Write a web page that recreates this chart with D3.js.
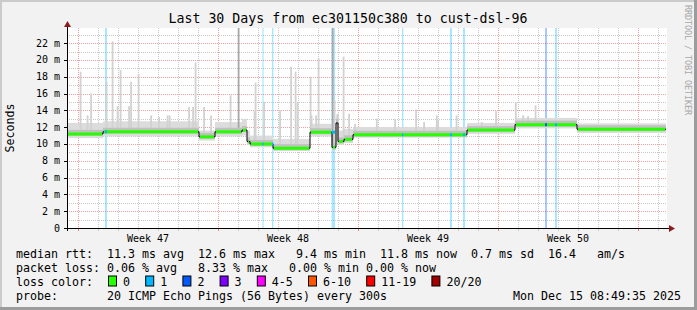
<!DOCTYPE html>
<html>
<head>
<meta charset="utf-8">
<script src="https://cdn.jsdelivr.net/npm/d3@7"></script>
<style>
body { margin: 0; background: #f2f2f2; }
text { font-family: "DejaVu Sans Mono", monospace; }
</style>
</head>
<body>
<div id="chart"></div>
<script>
(function(){
	var title = "Last 30 Days from ec301150c380 to cust-dsl-96";
	var graphStart = Date.UTC(2025, 10, 15, 10, 48);
	var spanDays = 30;

	// median rtt, stepped (day offset from graph start, ms)
	var segStart  = [0, 1.8, 6.6, 7.4, 8.75, 9.0, 9.15, 10.3, 12.15, 13.25, 13.45, 13.55, 13.85, 14.3, 20.0, 22.4, 25.5];
	var segEnd    = [1.8, 6.6, 7.4, 8.75, 9.0, 9.15, 10.3, 12.15, 13.25, 13.45, 13.55, 13.85, 14.3, 20.0, 22.4, 25.5, 29.95];
	var segMedian = [11.2, 11.45, 10.85, 11.45, 11.65, 10.3, 10.0, 9.5, 11.4, 9.6, 12.5, 10.3, 10.55, 11.1, 11.65, 12.3, 11.75];
	var smokeLo   = [10.7, 10.9, 10.4, 10.9, 11.0, 9.9, 9.6, 9.15, 10.9, 9.3, 10.0, 9.9, 10.1, 10.75, 11.2, 11.85, 11.3];
	var smokeHi   = [12.5, 12.7, 11.6, 12.6, 13.0, 11.6, 11.0, 10.6, 12.4, 12.0, 13.5, 11.6, 11.8, 12.0, 12.5, 13.1, 12.45];

	// single tall pings (day offset, ms, dark = several pings high)
	var spikeDay = [0.675, 1.025, 1.2, 1.975, 2.275, 2.525, 2.675, 3.1, 3.2, 3.575, 4.2, 4.6, 5.025, 5.125, 6.1, 6.3, 6.425, 6.85, 7.2,
		8.175, 8.575, 9.375, 9.425, 9.85, 10.65, 11.2, 11.425, 11.525, 12.175, 12.225, 12.45, 12.575, 13.275, 13.375, 13.55,
		13.825, 14.1, 14.4, 15.485, 16.4, 17.45, 17.85, 18.485, 18.55, 19.475, 20.735, 21.45, 22.435, 22.8, 23.05, 23.425];
	var spikeTop = [18.6, 13.4, 16.0, 17.4, 22.2, 14.5, 18.8, 14.5, 17.4, 18.3, 13.4, 13.2, 13.4, 13.4, 14.4, 14.4, 19.7, 14.4, 13.4,
		15.8, 23.8, 13.9, 17.3, 15.0, 14.0, 19.2, 18.6, 14.9, 18.0, 13.4, 13.4, 20.2, 23.8, 15.2, 13.6,
		20.4, 13.6, 12.4, 13.0, 13.0, 14.1, 12.6, 13.4, 12.8, 13.4, 12.6, 13.9, 15.0, 13.4, 13.3, 14.6];
	var spikeDark = [20, 32];

	// loss buckets (day offsets) and loss level index
	var lossStart = [1.9, 9.77, 10.25, 13.23, 16.75, 19.15, 19.8, 23.9, 24.4];
	var lossEnd   = [2.0, 9.83, 10.32, 13.4, 16.82, 19.25, 19.9, 24.0, 24.5];
	var lossLevel = [1, 1, 1, 1, 1, 1, 1, 2, 1];

	var lossLabels = ["0", "1", "2", "3", "4-5", "6-10", "11-19", "20/20"];
	var lossColors = ["#26ff00", "#00b8ff", "#0059ff", "#7e00ff", "#ff00ff", "#ff5500", "#ff0000", "#a10000"];

	var weekLabels = ["Week 47", "Week 48", "Week 49", "Week 50"];

	var legend1 = "median rtt:  11.3 ms avg  12.6 ms max   9.4 ms min  11.8 ms now  0.7 ms sd  16.4   am/s";
	var legend2 = "packet loss: 0.06 % avg   8.33 % max   0.00 % min 0.00 % now";
	var probeText = "probe:       20 ICMP Echo Pings (56 Bytes) every 300s";
	var stamp = "Mon Dec 15 08:49:35 2025";

	var width = 697, height = 310;
	var pl = 67, pr = 667, pt = 28, pb = 228;

	function day(d){ return new Date(graphStart + d * 864e5); }
	function keep(s){ return s.replace(/ /g, '\u00a0'); }

	var svg = d3.select('#chart').append('svg')
		.attr('width', width)
		.attr('height', height);

	svg.append('rect').attr('width', width).attr('height', height).attr('fill', '#f2f2f2');
	// 3d border
	svg.append('path').attr('d', 'M0,0H697V2H2V310H0Z').attr('fill', '#cbcbcb');
	svg.append('path').attr('d', 'M697,0V310H0V307H694V0Z').attr('fill', '#9c9c9c');

	var x = d3.scaleTime()
		.domain([day(0), day(spanDays)])
		.range([pl, pr]);
	var y = d3.scaleLinear()
		.domain([0, 23.8])
		.range([pb, pt]);

	svg.append('rect')
		.attr('x', pl).attr('y', pt)
		.attr('width', pr - pl).attr('height', pb - pt)
		.attr('fill', '#ffffff');

	var grid = svg.append('g').attr('shape-rendering', 'crispEdges');
	var days = d3.utcDay.range(day(0), day(spanDays));
	var sundays = d3.utcSunday.range(day(0), day(spanDays));

	grid.selectAll('.hmin').data(y.ticks(24)).enter().append('line')
		.attr('x1', pl).attr('x2', pr)
		.attr('y1', function(d){ return Math.round(y(d)) + 0.5; })
		.attr('y2', function(d){ return Math.round(y(d)) + 0.5; })
		.attr('stroke', '#c8c8c8').attr('stroke-dasharray', '1,1');
	grid.selectAll('.vmin').data(days).enter().append('line')
		.attr('y1', pt).attr('y2', pb)
		.attr('x1', function(d){ return Math.round(x(d)) + 0.5; })
		.attr('x2', function(d){ return Math.round(x(d)) + 0.5; })
		.attr('stroke', '#c8c8c8').attr('stroke-dasharray', '1,1');
	grid.selectAll('.hmaj').data(y.ticks(12)).enter().append('line')
		.attr('x1', pl).attr('x2', pr)
		.attr('y1', function(d){ return Math.round(y(d)) + 0.5; })
		.attr('y2', function(d){ return Math.round(y(d)) + 0.5; })
		.attr('stroke', '#f0a0a0').attr('stroke-dasharray', '1,1');
	grid.selectAll('.vmaj').data(sundays).enter().append('line')
		.attr('y1', pt).attr('y2', pb)
		.attr('x1', function(d){ return Math.round(x(d)) + 0.5; })
		.attr('x2', function(d){ return Math.round(x(d)) + 0.5; })
		.attr('stroke', '#f0a0a0').attr('stroke-dasharray', '1,1');

	// loss background stripes
	svg.append('g').selectAll('rect').data(lossStart).enter().append('rect')
		.attr('x', function(d){ return x(day(d)); })
		.attr('width', function(d, i){ return x(day(lossEnd[i])) - x(day(d)); })
		.attr('y', pt).attr('height', pb - pt)
		.attr('fill', function(d, i){ return lossColors[lossLevel[i]]; })
		.attr('fill-opacity', 0.34);

	function medianAt(d){
		for (var i = 0; i < segStart.length; i++) {
			if (d >= segStart[i] && d < segEnd[i]) return segMedian[i];
		}
		return segMedian[segMedian.length - 1];
	}

	// smoke body
	var smoke = svg.append('g');
	smoke.selectAll('.body').data(segStart).enter().append('rect')
		.attr('x', function(d){ return x(day(d)); })
		.attr('width', function(d, i){ return x(day(segEnd[i])) - x(day(d)); })
		.attr('y', function(d, i){ return y(smokeHi[i]); })
		.attr('height', function(d, i){ return y(smokeLo[i]) - y(smokeHi[i]); })
		.attr('fill', '#dcdcdc');

	smoke.selectAll('.spike').data(spikeDay).enter().append('rect')
		.attr('x', function(d){ return x(day(d)) - 0.8; })
		.attr('width', 1.8)
		.attr('y', function(d, i){ return y(spikeTop[i]); })
		.attr('height', function(d, i){ return y(medianAt(d)) - y(spikeTop[i]); })
		.attr('fill', function(d, i){ return spikeDark.indexOf(i) >= 0 ? '#a8a8a8' : '#d2d2d2'; });

	smoke.selectAll('.core').data(segStart).enter().append('rect')
		.attr('x', function(d){ return x(day(d)); })
		.attr('width', function(d, i){ return x(day(segEnd[i])) - x(day(d)); })
		.attr('y', function(d, i){ return y(segMedian[i]) - 4; })
		.attr('height', 6)
		.attr('fill', '#c0c0c0');

	// median line
	var pts = [];
	segStart.forEach(function(d, i){
		pts.push([d, segMedian[i]]);
		pts.push([segEnd[i], segMedian[i]]);
	});
	var line = d3.line()
		.x(function(p){ return x(day(p[0])); })
		.y(function(p){ return y(p[1]); });
	svg.append('path')
		.attr('d', line(pts))
		.attr('fill', 'none')
		.attr('stroke', '#000000')
		.attr('stroke-width', 1);

	svg.append('g').selectAll('line').data(segStart).enter().append('line')
		.attr('x1', function(d){ return x(day(d)) + 1; })
		.attr('x2', function(d, i){ return x(day(segEnd[i])) - 1; })
		.attr('y1', function(d, i){ return y(segMedian[i]); })
		.attr('y2', function(d, i){ return y(segMedian[i]); })
		.attr('stroke', lossColors[0])
		.attr('stroke-width', 3);

	svg.append('g').selectAll('line').data(lossStart).enter().append('line')
		.attr('x1', function(d){ return x(day(d)); })
		.attr('x2', function(d, i){ return x(day(lossEnd[i])); })
		.attr('y1', function(d){ return y(medianAt(d)); })
		.attr('y2', function(d){ return y(medianAt(d)); })
		.attr('stroke', function(d, i){ return lossColors[lossLevel[i]]; })
		.attr('stroke-width', 3);

	// axes
	var ax = svg.append('g').attr('shape-rendering', 'crispEdges');
	ax.append('line').attr('x1', pl + 0.5).attr('x2', pl + 0.5).attr('y1', pb + 3).attr('y2', pt - 3).attr('stroke', '#000');
	ax.append('line').attr('x1', pl - 3).attr('x2', pr + 2).attr('y1', pb + 0.5).attr('y2', pb + 0.5).attr('stroke', '#000');
	ax.selectAll('.yt').data(y.ticks(12)).enter().append('line')
		.attr('x1', pl - 3).attr('x2', pl)
		.attr('y1', function(d){ return Math.round(y(d)) + 0.5; })
		.attr('y2', function(d){ return Math.round(y(d)) + 0.5; })
		.attr('stroke', '#000');
	ax.selectAll('.xt').data(days).enter().append('line')
		.attr('y1', pb + 1).attr('y2', pb + 3)
		.attr('x1', function(d){ return Math.round(x(d)) + 0.5; })
		.attr('x2', function(d){ return Math.round(x(d)) + 0.5; })
		.attr('stroke', '#c8c8c8');
	ax.selectAll('.xT').data(sundays).enter().append('line')
		.attr('y1', pb + 1).attr('y2', pb + 3)
		.attr('x1', function(d){ return Math.round(x(d)) + 0.5; })
		.attr('x2', function(d){ return Math.round(x(d)) + 0.5; })
		.attr('stroke', '#f08080');
	svg.append('path').attr('d', 'M' + (pl + 0.5) + ',' + (pt - 7) + 'l-3.5,6h7z').attr('fill', '#8c1c1c');
	svg.append('path').attr('d', 'M' + (pr + 8) + ',' + (pb + 0.5) + 'l-6,-3.5v7z').attr('fill', '#8c1c1c');

	// y labels
	svg.append('g').selectAll('text').data(y.ticks(12)).enter().append('text')
		.attr('x', 60)
		.attr('y', function(d){ return y(d) + 3.5; })
		.attr('text-anchor', 'end')
		.attr('font-size', '10px')
		.attr('fill', '#000')
		.text(function(d){ return keep(d === 0 ? '0' : d + ' m'); });

	// week labels
	svg.append('g').selectAll('text').data(weekLabels).enter().append('text')
		.attr('x', function(d, i){ return x(d3.utcHour.offset(sundays[i], 84)); })
		.attr('y', 242)
		.attr('text-anchor', 'middle')
		.attr('font-size', '10px')
		.text(function(d){ return keep(d); });

	svg.append('text')
		.attr('x', 348).attr('y', 23)
		.attr('text-anchor', 'middle')
		.attr('font-size', '13.25px')
		.text(keep(title));

	svg.append('text')
		.attr('transform', 'translate(14,128) rotate(-90)')
		.attr('text-anchor', 'middle')
		.attr('font-size', '11.6px')
		.text('Seconds');

	svg.append('text')
		.attr('transform', 'translate(685,5) rotate(90)')
		.attr('font-size', '8.5px')
		.attr('fill', '#a8a8a8')
		.attr('textLength', 110)
		.attr('lengthAdjust', 'spacing')
		.text(keep('RRDTOOL / TOBI OETIKER'));

	// legend
	var lg = svg.append('g').attr('font-size', '11.63px');
	lg.append('text').attr('x', 16).attr('y', 258).text(keep(legend1));
	lg.append('text').attr('x', 16).attr('y', 272).text(keep(legend2));
	lg.append('text').attr('x', 16).attr('y', 286).text(keep('loss color:'));
	lg.append('text').attr('x', 16).attr('y', 300).text(keep(probeText));
	lg.append('text').attr('x', 681).attr('y', 300).attr('text-anchor', 'end').text(keep(stamp));

	var bx = 108.5;
	lossLabels.forEach(function(lab, i){
		lg.append('rect')
			.attr('x', bx).attr('y', 276)
			.attr('width', 8).attr('height', 10)
			.attr('fill', lossColors[i])
			.attr('stroke', '#000').attr('stroke-width', 1);
		lg.append('text').attr('x', bx + 14.5).attr('y', 286).text(lab);
		bx += 14.5 + lab.length * 7 + 15.7;
	});
})();
</script>
</body>
</html>
